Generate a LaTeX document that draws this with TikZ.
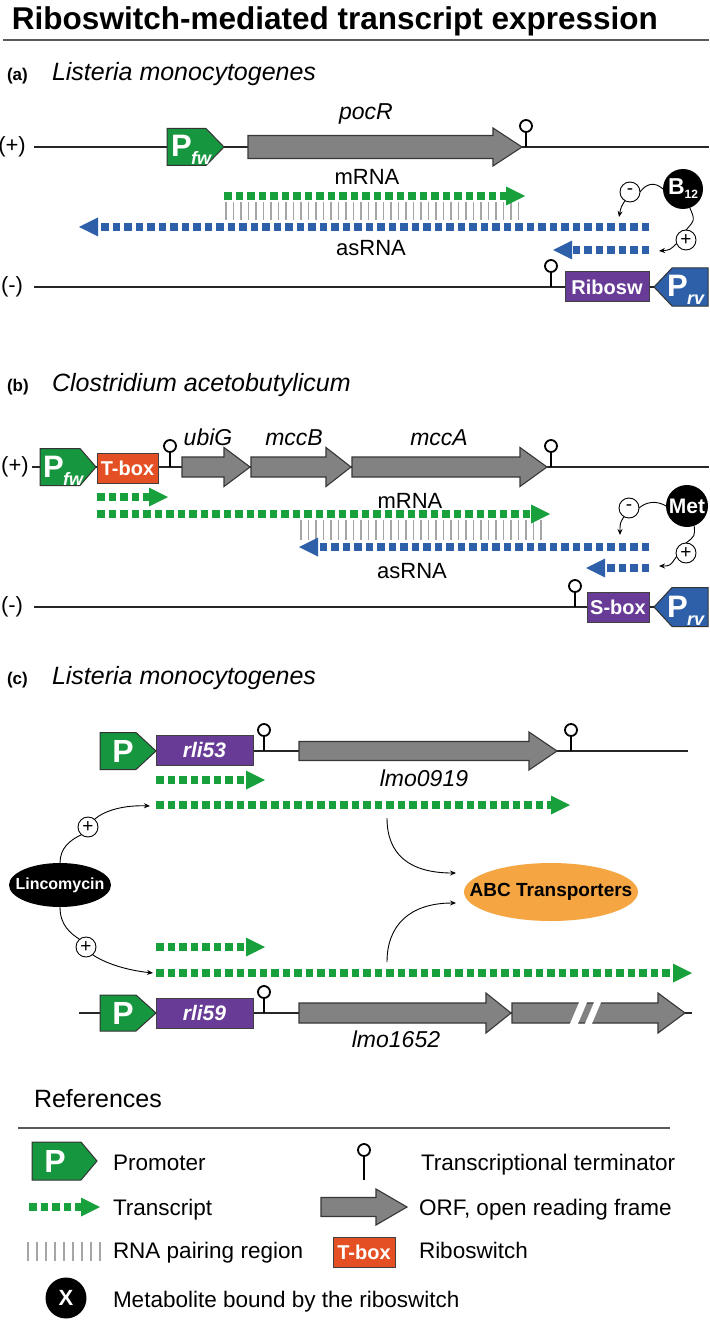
\documentclass[tikz,border=0pt]{standalone}
\usepackage{fontspec}
\setmainfont{Liberation Sans}
\usetikzlibrary{arrows.meta,shapes.geometric}
\definecolor{pgreen}{RGB}{22,150,62}
\definecolor{tgreen}{RGB}{24,160,60}
\definecolor{pblue}{RGB}{46,96,170}
\definecolor{purp}{RGB}{104,60,150}
\definecolor{tboxc}{RGB}{228,80,36}
\definecolor{ggray}{RGB}{130,130,130}
\definecolor{gborder}{RGB}{55,55,55}
\definecolor{abcor}{RGB}{245,165,66}
\definecolor{pairc}{RGB}{165,165,165}
\newcommand\fsz[1]{\fontsize{#1}{#1}\selectfont}
\newcommand\gene[6]{\filldraw[genestyle] (#1,{#4-#5}) -- (#2,{#4-#5}) -- (#2,{#4-#6}) -- (#3,#4) -- (#2,{#4+#6}) -- (#2,{#4+#5}) -- (#1,{#4+#5}) -- cycle;}
\newcommand\promR[5]{\filldraw[prom, fill=pgreen] (#1,{#4-#5}) -- (#2,{#4-#5}) -- (#3,#4) -- (#2,{#4+#5}) -- (#1,{#4+#5}) -- cycle;}
\newcommand\promL[5]{\filldraw[prom, fill=pblue] (#3,{#4-#5}) -- (#2,{#4-#5}) -- (#1,#4) -- (#2,{#4+#5}) -- (#3,{#4+#5}) -- cycle;}
\newcommand\term[2]{\draw[line width=1.8] (#1,#2) -- (#1,{#2-15}); \draw[line width=1.8, fill=white] (#1,{#2-21}) circle[radius=6];}
\newcommand\trR[4]{\draw[#4, line width=8, dash pattern=on 7.5pt off 4pt] (#1,#3) -- ({#2-19},#3);
 \fill[#4] ({#2-19},{#3-9.5}) -- (#2,#3) -- ({#2-19},{#3+9.5}) -- cycle;}
\newcommand\trL[4]{\draw[#4, line width=8, dash pattern=on 7.5pt off 4pt] (#2,#3) -- ({#1+19},#3);
 \fill[#4] ({#1+19},{#3-9.5}) -- (#1,#3) -- ({#1+19},{#3+9.5}) -- cycle;}
\newcommand\Ptxt[1]{{\fsz{31}\bfseries P}\kern-0.5pt\raisebox{-8pt}{\fsz{18}\bfseries\itshape #1}}
\begin{document}
\begin{tikzpicture}[x=1pt,y=-1pt,
  every node/.style={inner sep=0pt, outer sep=0pt},
  dna/.style={line width=1.3, black!85},
  genestyle/.style={fill=ggray, draw=gborder, line width=1.1},
  prom/.style={draw=black!80, line width=1},
  rbox/.style={draw=black!75, line width=1, text=white, font=\fsz{20}\bfseries, minimum height=30},
  ptext/.style={text=white, anchor=base west},
  conn/.style={line width=0.9, black},
  connA/.style={conn, -{Stealth[length=6pt,width=5pt]}},
  sign/.style={circle, draw=black, fill=white, line width=0.9, minimum size=20, font=\fsz{19}},
  metab/.style={circle, fill=black, minimum size=40, text=white, font=\fsz{21}\bfseries},
  pair/.style={line width=1.2, pairc},
  lab/.style={font=\fsz{22}, anchor=base},
  glab/.style={font=\fsz{23}\itshape, anchor=base},
  head/.style={font=\fsz{17}\bfseries, anchor=base west},
  spec/.style={font=\fsz{25}\itshape, anchor=base west},
  leg/.style={font=\fsz{22.5}, anchor=base west}]
\path[use as bounding box] (0,0) rectangle (709,1321);
\fill[white] (0,0) rectangle (709,1321);
% title
\node[font=\fsz{31.5}\bfseries, anchor=base west] (title) at (12,30) {Riboswitch-mediated transcript expression};
\draw[line width=1.5, black!65] (3,40) -- (709,40);

% ================= panel a
\node[head] (la) at (7,81) {(a)};
\node[spec] (sa) at (52,81) {Listeria monocytogenes};
\node[font=\fsz{22}] (aplus) at (12,147) {(+)};
\node[font=\fsz{22}] (aminus) at (12,287) {(-)};
\draw[dna] (34,147) -- (709,147);
\draw[dna] (34,287) -- (654,287);
\gene{248}{493}{522}{147}{11.5}{19}
\node[glab] (pocR) at (366,120) {pocR};
\promR{167}{206}{224}{147}{18.5}
\node[ptext] (pfwa) at (171,157) {\Ptxt{fw}};
\term{526}{147}
\term{551}{287}
\node[rbox, fill=purp, minimum width=84] (ribo) at (607,287) {Ribosw};
\promL{654}{672}{708}{287}{19}
\node[ptext] (prva) at (667,297) {\Ptxt{rv}};
\node[lab] (mrnaa) at (367,185) {mRNA};
\node[lab] (asrnaa) at (371,256) {asRNA};
\foreach \x in {226,233.5,...,519} \draw[pair] (\x,202) -- (\x,220);
\trR{224}{525}{196}{tgreen}
\trL{79}{649}{227}{pblue}
\trL{553}{649}{250}{pblue}
\node[metab] (b12) at (683,189) {{\fsz{23}B}\raisebox{-4pt}{\fsz{12}12}};
\node[sign] (am) at (630,192) {-};
\node[sign] (ap) at (686,240) {+};
\coordinate (aminusT) at (619,217);
\coordinate (aplusT) at (659,251);
\draw[conn] (b12.west) .. controls (654,181) and (646,184) .. (am.east);
\draw[connA] (am.240) .. controls (621,207) .. (aminusT);
\draw[conn] (b12.-70) .. controls (695,220) .. (ap.north);
\draw[connA] (ap.200) .. controls (670,250) .. (aplusT);

% ================= panel b
\node[head] (lb) at (7,391) {(b)};
\node[spec] (sb) at (52,391) {Clostridium acetobutylicum};
\node[font=\fsz{22}] (bplus) at (15,467) {(+)};
\node[font=\fsz{22}] (bminus) at (12,607) {(-)};
\draw[dna] (32,467) -- (709,467);
\draw[dna] (34,607) -- (654,607);
\promR{40}{80}{96}{467}{18.5}
\node[ptext] (pfwb) at (43,477) {\Ptxt{fw}};
\node[rbox, fill=tboxc, minimum width=61] (tbox) at (127.5,468) {T-box};
\term{170}{467}
\gene{182}{224}{250}{467}{10}{19.5}
\gene{251}{326}{351}{467}{10}{19.5}
\gene{352}{520}{547}{467}{10}{19.5}
\term{551}{467}
\node[glab] (ubiG) at (208,445) {ubiG};
\node[glab] (mccB) at (294,445) {mccB};
\node[glab] (mccA) at (439,445) {mccA};
\node[lab] (mrnab) at (410,508) {mRNA};
\node[lab] (asrnab) at (412,578) {asRNA};
\foreach \x in {301,308.5,...,548} \draw[pair] (\x,520) -- (\x,540);
\trR{97}{168}{497}{tgreen}
\trR{97}{550}{514}{tgreen}
\trL{299}{649}{547}{pblue}
\trL{586}{649}{568}{pblue}
\term{575}{607}
\node[rbox, fill=purp, minimum width=62] (sbox) at (618,607) {S-box};
\promL{654}{672}{708}{607}{19.5}
\node[ptext] (prvb) at (667,617) {\Ptxt{rv}};
\node[metab, minimum size=42] (met) at (687,506) {Met};
\node[sign] (bm) at (629,508) {-};
\node[sign] (bp) at (686,553) {+};
\coordinate (bminusT) at (620,535);
\coordinate (bplusT) at (659,566);
\draw[conn] (met.west) .. controls (656,500) and (646,502) .. (bm.east);
\draw[connA] (bm.240) .. controls (620,523) .. (bminusT);
\draw[conn] (met.-70) .. controls (695,536) .. (bp.north);
\draw[connA] (bp.200) .. controls (670,566) .. (bplusT);

% ================= panel c
\node[head] (lc) at (7,684) {(c)};
\node[spec] (sc) at (52,684) {Listeria monocytogenes};
\draw[dna] (156,751) -- (688,751);
\draw[dna] (79,1013) -- (692,1013);
\promR{100}{136}{156}{751}{18.5}
\node[text=white, font=\fsz{32}\bfseries] (pc1) at (123,751) {P};
\node[rbox, fill=purp, minimum width=97, font=\fsz{21}\bfseries\itshape] (rli53) at (204.5,750) {rli53};
\term{264}{751}
\gene{299}{529}{557}{751}{9.5}{19}
\term{571}{751}
\node[glab] (lmo0919) at (424,786) {lmo0919};
\promR{100}{136}{156}{1013}{18}
\node[text=white, font=\fsz{32}\bfseries] (pc2) at (123,1013) {P};
\node[rbox, fill=purp, minimum width=97, font=\fsz{21}\bfseries\itshape] (rli59) at (204.5,1013) {rli59};
\term{264}{1013}
\gene{299}{486}{511}{1013}{10}{20}
\gene{512}{658}{685}{1013}{10}{20}
\fill[white] (569,1026) -- (577,1026) -- (588,1000) -- (580,1000) -- cycle;
\fill[white] (584,1026) -- (591,1026) -- (602,1000) -- (595,1000) -- cycle;
\node[glab] (lmo1652) at (396,1047) {lmo1652};
\trR{156}{265}{780}{tgreen}
\trR{156}{570}{805}{tgreen}
\trR{156}{265}{947}{tgreen}
\trR{156}{692}{973}{tgreen}
\node[ellipse, fill=black, minimum width=102, minimum height=44, text=white, font=\fsz{16}\bfseries] (linc) at (60,885) {\makebox[0pt][c]{Lincomycin}};
\node[ellipse, fill=abcor, minimum width=174, minimum height=58, font=\fsz{19}\bfseries] (abc) at (551,892) {\makebox[0pt][c]{ABC Transporters}};
\node[sign] (cp1) at (88,827) {+};
\node[sign] (cp2) at (86,947) {+};
\coordinate (c1T) at (150,806);
\coordinate (c2T) at (153,973);
\coordinate (c1S) at (387,818);
\coordinate (c2S) at (387,962);
\draw[conn] (linc.north) .. controls (60,848) and (70,840) .. (cp1.230);
\draw[connA] (cp1.50) .. controls (105,810) and (125,805) .. (c1T);
\draw[conn] (linc.south) .. controls (60,925) and (70,933) .. (cp2.130);
\draw[connA] (cp2.-50) .. controls (105,963) and (125,970) .. (c2T);
\draw[connA, shorten >=8pt] (c1S) .. controls (387,855) and (410,873) .. (abc.west |- 0,873);
\draw[connA, shorten >=8pt] (c2S) .. controls (387,925) and (410,903) .. (abc.west |- 0,903);

% ================= references
\node[font=\fsz{25}, anchor=base west] (refs) at (34,1107) {References};
\draw[line width=1.5, black!65] (18,1128) -- (670,1128);
\promR{32}{81}{97}{1161}{19}
\node[text=white, font=\fsz{32}\bfseries] (pleg) at (55,1161) {P};
\node[leg] (tprom) at (113,1170) {Promoter};
\draw[line width=1.8] (364,1180) -- (364,1156);
\draw[line width=1.8, fill=white] (364,1150) circle[radius=6];
\node[leg] (tterm) at (421,1170) {Transcriptional terminator};
\trR{29}{100}{1207}{tgreen}
\node[leg] (ttr) at (113,1215) {Transcript};
\gene{321}{376}{407}{1207}{9.5}{18}
\node[leg] (torf) at (419,1215) {ORF, open reading frame};
\foreach \x in {28,37,...,101} \draw[pair] (\x,1242) -- (\x,1261);
\node[leg] (tpair) at (113,1258) {RNA pairing region};
\node[rbox, fill=tboxc, minimum width=62] (tleg) at (364,1252) {T-box};
\node[leg] (trib) at (419,1258) {Riboswitch};
\node[metab, minimum size=41, font=\fsz{22}\bfseries] (xleg) at (66,1298) {X};
\node[leg] (tmet) at (113,1307) {Metabolite bound by the riboswitch};
\end{tikzpicture}
\end{document}
